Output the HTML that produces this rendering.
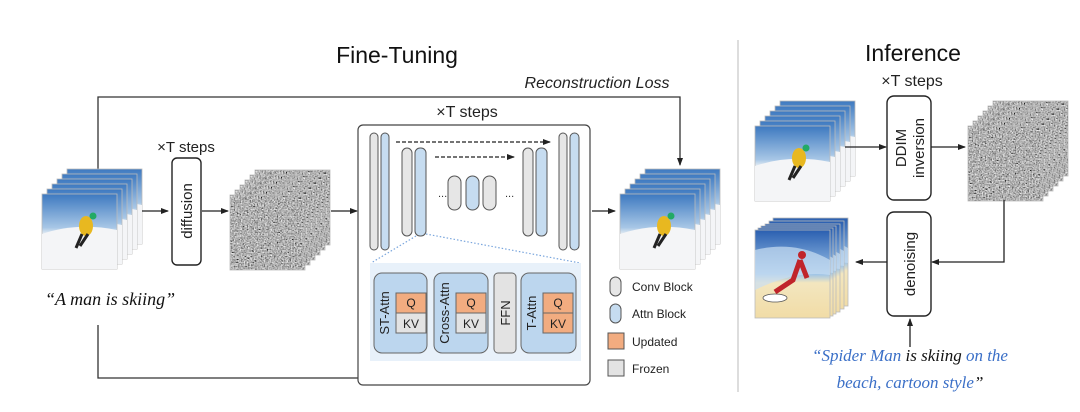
<!DOCTYPE html>
<html><head><meta charset="utf-8"><style>
body{margin:0;background:#fff}
svg{display:block}
text{font-family:"Liberation Sans",sans-serif}
.hand{font-family:"Liberation Serif",serif;font-style:italic}
</style></head><body>
<svg width="1080" height="412" viewBox="0 0 1080 412" xmlns="http://www.w3.org/2000/svg">
<defs>
<marker id="ar" markerWidth="8" markerHeight="8" refX="7" refY="4" orient="auto" markerUnits="userSpaceOnUse"><path d="M0,1 L8,4 L0,7 z" fill="#222"/></marker>
<linearGradient id="sky" x1="0" y1="0" x2="0" y2="1"><stop offset="0" stop-color="#3d79c0"/><stop offset="0.45" stop-color="#a8c7e6"/><stop offset="0.55" stop-color="#f2f4f6"/><stop offset="1" stop-color="#e6e9ec"/></linearGradient>
<linearGradient id="sky2" x1="0" y1="0" x2="0" y2="1"><stop offset="0" stop-color="#2a5fb0"/><stop offset="0.5" stop-color="#9cc3e8"/><stop offset="0.6" stop-color="#f3e6bf"/><stop offset="1" stop-color="#f1dca6"/></linearGradient>
<filter id="nz" x="0" y="0" width="100%" height="100%"><feTurbulence type="fractalNoise" baseFrequency="0.7" numOctaves="1" seed="3"/><feColorMatrix type="matrix" values="0.33 0.33 0.33 0 0 0.33 0.33 0.33 0 0 0.33 0.33 0.33 0 0 0 0 0 0 1"/><feComponentTransfer><feFuncR type="linear" slope="2.4" intercept="-0.75"/><feFuncG type="linear" slope="2.4" intercept="-0.75"/><feFuncB type="linear" slope="2.4" intercept="-0.75"/></feComponentTransfer></filter>
<g id="ski"><rect width="75" height="75" fill="url(#sky)" stroke="#bbb" stroke-width="0.8"/><path d="M0,40 Q35,28 75,36 L75,75 L0,75z" fill="#f4f5f7"/><ellipse cx="44" cy="32" rx="7" ry="10" fill="#e8b820"/><circle cx="51" cy="22" r="3.5" fill="#2a6"/><path d="M40,40 L34,54 M46,40 L38,52" stroke="#222" stroke-width="3"/></g>
<g id="nse"><rect width="75" height="75" fill="#6a6a6a"/><rect width="75" height="75" filter="url(#nz)"/><rect width="75" height="75" fill="none" stroke="#bbb" stroke-width="0.8"/></g>
<g id="spd"><rect width="75" height="88" fill="url(#sky2)" stroke="#bbb" stroke-width="0.8"/><path d="M0,20 Q40,10 75,30 L75,45 Q40,40 0,60z" fill="#c9def2" opacity="0.7"/><path d="M45,30 L38,50 L20,62 M45,30 L52,48" stroke="#c0242a" stroke-width="5" fill="none"/><circle cx="47" cy="25" r="4" fill="#c0242a"/><ellipse cx="20" cy="68" rx="12" ry="4" fill="#fff" stroke="#555" stroke-width="0.8"/></g>
</defs>

<text x="397" y="63" font-size="23" text-anchor="middle" fill="#111">Fine-Tuning</text>
<text x="913" y="61" font-size="23" text-anchor="middle" fill="#111">Inference</text>
<line x1="738" y1="40" x2="738" y2="392" stroke="#bbb" stroke-width="1"/>

<path d="M98,170 L98,97 L680,97 L680,165" fill="none" stroke="#333" stroke-width="1.3" marker-end="url(#ar)"/>
<text x="597" y="88" font-size="16" font-style="italic" text-anchor="middle" fill="#222">Reconstruction Loss</text>
<path d="M98,325 L98,378 L471,378 L471,336" fill="none" stroke="#333" stroke-width="1.3" marker-end="url(#ar)"/>

<use href="#ski" x="67" y="169"/><use href="#ski" x="62" y="174"/><use href="#ski" x="57" y="179"/><use href="#ski" x="52" y="184"/><use href="#ski" x="47" y="189"/><use href="#ski" x="42" y="194"/>
<text x="45" y="305" font-size="18" class="hand" fill="#111">“A man is skiing”</text>
<line x1="142" y1="211" x2="168" y2="211" stroke="#222" stroke-width="1.3" marker-end="url(#ar)"/>
<text x="186" y="152" font-size="15" text-anchor="middle" fill="#222">×T steps</text>
<rect x="172" y="158" width="29" height="107" rx="5" fill="#fff" stroke="#222" stroke-width="1.4"/>
<text transform="translate(192,211) rotate(-90)" font-size="15" text-anchor="middle" fill="#222">diffusion</text>
<line x1="202" y1="211" x2="228" y2="211" stroke="#222" stroke-width="1.3" marker-end="url(#ar)"/>
<use href="#nse" x="255" y="170"/><use href="#nse" x="250" y="175"/><use href="#nse" x="245" y="180"/><use href="#nse" x="240" y="185"/><use href="#nse" x="235" y="190"/><use href="#nse" x="230" y="195"/>
<line x1="331" y1="211" x2="357" y2="211" stroke="#222" stroke-width="1.3" marker-end="url(#ar)"/>

<text x="467" y="117" font-size="16" text-anchor="middle" fill="#222">×T steps</text>
<rect x="358" y="125" width="232" height="260" rx="5" fill="#fff" stroke="#444" stroke-width="1.2"/>
<g stroke="#555" stroke-width="1">
<rect x="370" y="133" width="8" height="117" rx="4" fill="#e6e6e6"/>
<rect x="381" y="133" width="8" height="117" rx="4" fill="#c6dcf0"/>
<rect x="402" y="148" width="10" height="88" rx="5" fill="#e6e6e6"/>
<rect x="415" y="148" width="11" height="88" rx="5" fill="#c6dcf0"/>
<rect x="448" y="176" width="13" height="34" rx="6.5" fill="#e6e6e6"/>
<rect x="466" y="176" width="13" height="34" rx="6.5" fill="#c6dcf0"/>
<rect x="483" y="176" width="13" height="34" rx="6.5" fill="#e6e6e6"/>
<rect x="523" y="148" width="10" height="88" rx="5" fill="#e6e6e6"/>
<rect x="536" y="148" width="11" height="88" rx="5" fill="#c6dcf0"/>
<rect x="559" y="133" width="8" height="117" rx="4" fill="#e6e6e6"/>
<rect x="570" y="133" width="9" height="117" rx="4.5" fill="#c6dcf0"/>
</g>
<line x1="396" y1="142" x2="550" y2="142" stroke="#222" stroke-width="1.2" stroke-dasharray="4,2" marker-end="url(#ar)"/>
<line x1="435" y1="157" x2="514" y2="157" stroke="#222" stroke-width="1.2" stroke-dasharray="4,2" marker-end="url(#ar)"/>
<text x="438" y="197" font-size="11" fill="#333">...</text>
<text x="505" y="197" font-size="11" fill="#333">...</text>
<line x1="416" y1="236" x2="371" y2="263" stroke="#7aa6dd" stroke-width="1.2" stroke-dasharray="1.5,2"/>
<line x1="426" y1="234" x2="580" y2="263" stroke="#7aa6dd" stroke-width="1.2" stroke-dasharray="1.5,2"/>
<rect x="370" y="263" width="211" height="98" fill="#e8f1fa"/>
<g stroke="#666" stroke-width="1">
<rect x="374" y="273" width="53" height="80" rx="8" fill="#bcd6ee"/>
<rect x="434" y="273" width="54" height="80" rx="8" fill="#bcd6ee"/>
<rect x="494" y="273" width="22" height="80" rx="4" fill="#e3e3e3"/>
<rect x="521" y="273" width="55" height="80" rx="8" fill="#bcd6ee"/>
<rect x="396" y="293" width="30" height="20" fill="#f2ac80"/><rect x="396" y="313" width="30" height="20" fill="#e3e3e3"/>
<rect x="456" y="293" width="30" height="20" fill="#f2ac80"/><rect x="456" y="313" width="30" height="20" fill="#e3e3e3"/>
<rect x="543" y="293" width="30" height="20" fill="#f2ac80"/><rect x="543" y="313" width="30" height="20" fill="#f2ac80"/>
</g>
<g font-size="12" fill="#222" text-anchor="middle">
<text x="411" y="307">Q</text><text x="411" y="328">KV</text>
<text x="471" y="307">Q</text><text x="471" y="328">KV</text>
<text x="558" y="307">Q</text><text x="558" y="328">KV</text>
<text transform="translate(389,313) rotate(-90)" font-size="13">ST-Attn</text>
<text transform="translate(449,313) rotate(-90)" font-size="13">Cross-Attn</text>
<text transform="translate(510,313) rotate(-90)" font-size="13">FFN</text>
<text transform="translate(536,313) rotate(-90)" font-size="13">T-Attn</text>
</g>
<line x1="592" y1="211" x2="615" y2="211" stroke="#222" stroke-width="1.3" marker-end="url(#ar)"/>
<use href="#ski" x="645" y="169"/><use href="#ski" x="640" y="174"/><use href="#ski" x="635" y="179"/><use href="#ski" x="630" y="184"/><use href="#ski" x="625" y="189"/><use href="#ski" x="620" y="194"/>

<g stroke="#555" stroke-width="1">
<rect x="610" y="277" width="11" height="19" rx="5.5" fill="#e6e6e6"/>
<rect x="610" y="304" width="11" height="19" rx="5.5" fill="#c6dcf0"/>
<rect x="608" y="333" width="16" height="16" fill="#f2ac80"/>
<rect x="608" y="360" width="16" height="16" fill="#e3e3e3"/>
</g>
<g font-size="12" fill="#222"><text x="632" y="291">Conv Block</text><text x="632" y="318">Attn Block</text><text x="632" y="346">Updated</text><text x="632" y="373">Frozen</text></g>

<text x="912" y="86" font-size="16" text-anchor="middle" fill="#222">×T steps</text>
<use href="#ski" x="780" y="101"/><use href="#ski" x="775" y="106"/><use href="#ski" x="770" y="111"/><use href="#ski" x="765" y="116"/><use href="#ski" x="760" y="121"/><use href="#ski" x="755" y="126"/>
<line x1="845" y1="147" x2="886" y2="147" stroke="#222" stroke-width="1.3" marker-end="url(#ar)"/>
<rect x="887" y="96" width="44" height="104" rx="7" fill="#fff" stroke="#222" stroke-width="1.4"/>
<text transform="translate(906,148) rotate(-90)" font-size="15" text-anchor="middle" fill="#222">DDIM</text>
<text transform="translate(924,148) rotate(-90)" font-size="15" text-anchor="middle" fill="#222">inversion</text>
<line x1="931" y1="147" x2="965" y2="147" stroke="#222" stroke-width="1.3" marker-end="url(#ar)"/>
<use href="#nse" x="993" y="101"/><use href="#nse" x="988" y="106"/><use href="#nse" x="983" y="111"/><use href="#nse" x="978" y="116"/><use href="#nse" x="973" y="121"/><use href="#nse" x="968" y="126"/>
<path d="M1004,200 L1004,262 L932,262" fill="none" stroke="#222" stroke-width="1.3" marker-end="url(#ar)"/>
<rect x="887" y="212" width="44" height="104" rx="7" fill="#fff" stroke="#222" stroke-width="1.4"/>
<text transform="translate(915,264) rotate(-90)" font-size="15" text-anchor="middle" fill="#222">denoising</text>
<line x1="887" y1="262" x2="856" y2="262" stroke="#222" stroke-width="1.3" marker-end="url(#ar)"/>
<use href="#spd" x="773" y="218"/><use href="#spd" x="769" y="221"/><use href="#spd" x="765" y="224"/><use href="#spd" x="761" y="226"/><use href="#spd" x="758" y="228"/><use href="#spd" x="755" y="230"/>
<line x1="910" y1="347" x2="910" y2="319" stroke="#222" stroke-width="1.3" marker-end="url(#ar)"/>
<text x="910" y="361" font-size="17" class="hand" text-anchor="middle" fill="#3a6fc7">“Spider Man <tspan fill="#111">is skiing</tspan> on the</text>
<text x="910" y="388" font-size="17" class="hand" text-anchor="middle" fill="#3a6fc7">beach, cartoon style<tspan fill="#111">”</tspan></text>
</svg>
</body></html>
